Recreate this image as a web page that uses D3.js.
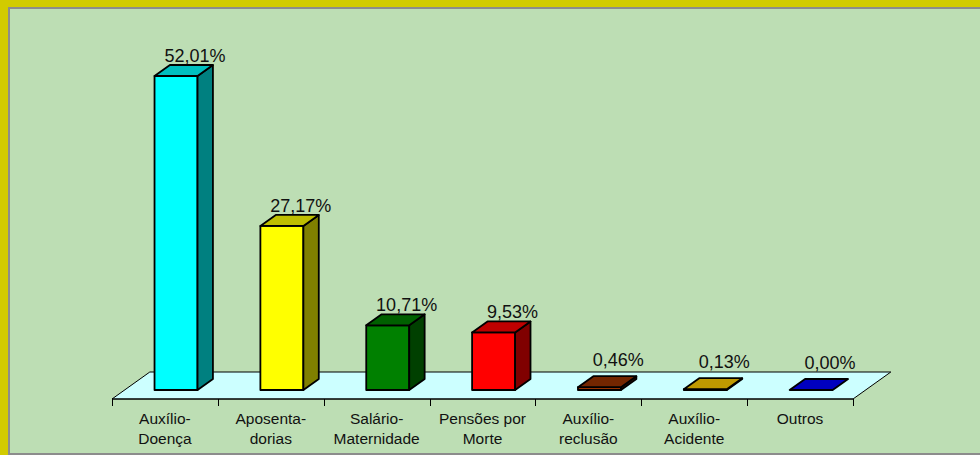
<!DOCTYPE html>
<html>
<head>
<meta charset="utf-8">
<script src="https://cdn.jsdelivr.net/npm/d3@7"></script>
<style>
  html, body { margin: 0; padding: 0; background: #d2cb00; }
  svg { display: block; }
</style>
</head>
<body>
<div id="chart"></div>
<script>
// Data
var categories = ['Auxílio-Doença', 'Aposentadorias', 'Salário-Maternidade', 'Pensões por Morte',
                  'Auxílio-reclusão', 'Auxílio-Acidente', 'Outros'];
var catLines = [['Auxílio-', 'Doença'], ['Aposenta-', 'dorias'], ['Salário-', 'Maternidade'],
                ['Pensões por', 'Morte'], ['Auxílio-', 'reclusão'], ['Auxílio-', 'Acidente'], ['Outros']];
var values = [52.01, 27.17, 10.71, 9.53, 0.46, 0.13, 0.00];
var colors = ['#00ffff', '#ffff00', '#008000', '#ff0000', '#993300', '#ffcc00', '#0000ff'];

var Chart = (function(){

    var sizes = {width: 980, height: 455};
    var fmt = d3.formatLocale({decimal: ',', thousands: '.', grouping: [3], currency: ['', '']}).format('.2f');

    var svg = d3.select('#chart')
                .append('svg')
                .attr('width', sizes.width)
                .attr('height', sizes.height);

    // frame: yellow band, grey rule, green plot area
    svg.append('rect').attr('width', sizes.width).attr('height', sizes.height).attr('fill', '#d2cb00');
    svg.append('rect').attr('x', 8).attr('y', 7).attr('width', 972).attr('height', 448).attr('fill', '#8c8c8c');
    svg.append('rect').attr('x', 10).attr('y', 9).attr('width', 970).attr('height', 444).attr('fill', '#bddeb4');

    // oblique projection for depth
    var depth = {floor: 27, front: 9, back: 20, k: 1.4};
    var proj = function(x, y, d){ return [x + d * depth.k, y - d]; };

    var x = d3.scaleBand().domain(categories).range([112, 853]).padding(0);
    var y = d3.scaleLinear().domain([0, 52.01]).range([399, 85]);
    var y0 = y(0), left = x.range()[0], right = x.range()[1];

    // floor
    var floor = [proj(left, y0, 0), proj(right, y0, 0), proj(right, y0, depth.floor), proj(left, y0, depth.floor)];
    svg.append('polygon')
        .attr('points', floor.join(' '))
        .attr('fill', '#ccffff')
        .attr('stroke', '#000')
        .attr('stroke-width', 1);

    // bars
    var barW = 43;
    var shade = function(c, k){ var r = d3.rgb(c); return d3.rgb(r.r * k, r.g * k, r.b * k).toString(); };

    var bars = svg.selectAll('g.bar')
        .data(values)
        .enter()
        .append('g')
        .attr('class', 'bar');

    bars.each(function(v, i){
        var g = d3.select(this);
        var x0 = x(categories[i]) + x.bandwidth() / 2 - 23, x1 = x0 + barW;
        var yt = y(v);
        var f = depth.front, b = depth.back;
        var style = function(sel, fill){
            sel.attr('fill', fill).attr('stroke', '#000').attr('stroke-width', 1.8).attr('stroke-linejoin', 'round');
        };
        if (y0 - yt > 0.5){
            g.append('polygon')
                .attr('points', [proj(x0, yt, f), proj(x1, yt, f), proj(x1, y0, f), proj(x0, y0, f)].join(' '))
                .call(style, colors[i]);
            g.append('polygon')
                .attr('points', [proj(x1, yt, f), proj(x1, yt, b), proj(x1, y0, b), proj(x1, y0, f)].join(' '))
                .call(style, shade(colors[i], 0.5));
        }
        g.append('polygon')
            .attr('points', [proj(x0, yt, f), proj(x1, yt, f), proj(x1, yt, b), proj(x0, yt, b)].join(' '))
            .call(style, shade(colors[i], 0.75));
    });

    // value labels
    svg.selectAll('text.val')
        .data(values)
        .enter()
        .append('text')
        .attr('class', 'val')
        .attr('x', function(d, i){ return x(categories[i]) + x.bandwidth() / 2 + 30; })
        .attr('y', function(d){ return y(d) - depth.back - (d < 1 ? 10 : 3); })
        .attr('text-anchor', 'middle')
        .style('font-family', 'Liberation Sans, Arial, sans-serif')
        .style('font-size', '18px')
        .style('fill', '#111')
        .text(function(d){ return fmt(d) + '%'; });

    // category axis
    var axis = svg.append('g').attr('transform', 'translate(0,' + y0 + ')');
    axis.append('line').attr('x1', left).attr('x2', right).attr('stroke', '#000');
    var ticks = categories.map(function(c){ return x(c); }).concat([right]);
    axis.selectAll('line.tick')
        .data(ticks)
        .enter()
        .append('line')
        .attr('class', 'tick')
        .attr('x1', function(d){ return Math.round(d) + 0.5; })
        .attr('x2', function(d){ return Math.round(d) + 0.5; })
        .attr('y1', 0).attr('y2', 7)
        .attr('stroke', '#000');

    var labels = axis.selectAll('text.cat')
        .data(catLines)
        .enter()
        .append('text')
        .attr('class', 'cat')
        .attr('text-anchor', 'middle')
        .style('font-family', 'Liberation Sans, Arial, sans-serif')
        .style('font-size', '15.5px')
        .style('fill', '#111');
    labels.each(function(lines, i){
        var t = d3.select(this), cx = x(categories[i]) + x.bandwidth() / 2;
        lines.forEach(function(s, j){
            t.append('tspan').attr('x', cx).attr('y', 25 + j * 20).text(s);
        });
    });

    return {svg: svg};
}());
</script>
</body>
</html>
